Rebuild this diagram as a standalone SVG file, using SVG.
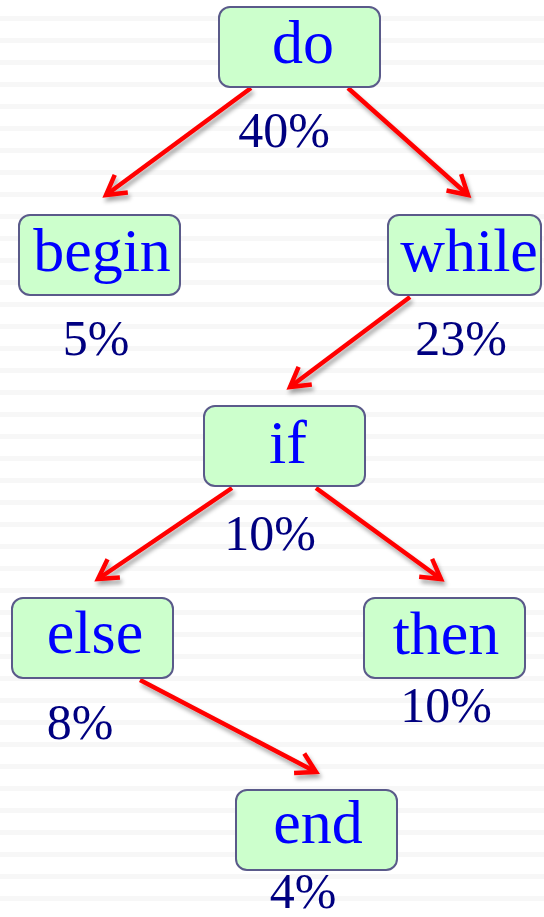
<svg xmlns="http://www.w3.org/2000/svg" width="544" height="917" viewBox="0 0 544 917">
<style>
.box{fill:#ccffcc;stroke:#5a5a8a;stroke-width:2}
.lbl{font-family:"Liberation Serif","Times New Roman",serif;font-size:62px;fill:#0000ff;text-anchor:middle}
.pct{font-family:"Liberation Serif","Times New Roman",serif;font-size:50px;fill:#000080;text-anchor:middle}
.edge{stroke:#ff0000;stroke-width:4.5;fill:none}
</style>
<defs>
<pattern id="stripes" patternUnits="userSpaceOnUse" width="544" height="22">
<rect x="0" y="16" width="544" height="5" fill="#f7f7f7"/>
</pattern>
<marker id="arr" markerUnits="userSpaceOnUse" markerWidth="30" markerHeight="30" refX="0" refY="0" viewBox="-24 -15 30 30" orient="auto" overflow="visible">
<path d="M -19 -11 L 0 0 L -19 11" fill="none" stroke="#ff0000" stroke-width="4.5" stroke-linejoin="miter"/>
</marker>
<filter id="sh" x="-20%" y="-20%" width="140%" height="140%">
<feDropShadow dx="2" dy="4" stdDeviation="2" flood-color="#000" flood-opacity="0.35"/>
</filter>
</defs>
<rect width="544" height="917" fill="#ffffff"/>
<rect width="544" height="917" fill="url(#stripes)"/>
<g id="connectors" filter="url(#sh)">
<line class="edge" x1="251" y1="88" x2="106" y2="195" marker-end="url(#arr)"/>
<line class="edge" x1="348" y1="88" x2="468" y2="195" marker-end="url(#arr)"/>
<line class="edge" x1="410" y1="297" x2="290" y2="387" marker-end="url(#arr)"/>
<line class="edge" x1="232" y1="488" x2="98" y2="579" marker-end="url(#arr)"/>
<line class="edge" x1="316" y1="488" x2="441" y2="579" marker-end="url(#arr)"/>
<line class="edge" x1="140" y1="680" x2="316" y2="772" marker-end="url(#arr)"/>
</g>
<g id="do"><rect class="box" x="219" y="7" width="161" height="80" rx="11"/><text class="lbl" x="303" y="63">do</text><text class="pct" x="284" y="147">40%</text></g>
<g id="begin"><rect class="box" x="19" y="215" width="161" height="80" rx="11"/><text class="lbl" x="102" y="271">begin</text><text class="pct" x="96" y="355">5%</text></g>
<g id="while"><rect class="box" x="388" y="215" width="153" height="80" rx="11"/><text class="lbl" x="469" y="271">while</text><text class="pct" x="461" y="355">23%</text></g>
<g id="if"><rect class="box" x="204" y="406" width="161" height="80" rx="11"/><text class="lbl" x="288" y="463">if</text><text class="pct" x="270" y="550">10%</text></g>
<g id="else"><rect class="box" x="12" y="598" width="161" height="80" rx="11"/><text class="lbl" x="95" y="653">else</text><text class="pct" x="80" y="739">8%</text></g>
<g id="then"><rect class="box" x="364" y="598" width="161" height="80" rx="11"/><text class="lbl" x="446" y="654">then</text><text class="pct" x="446" y="722">10%</text></g>
<g id="end"><rect class="box" x="236" y="790" width="161" height="80" rx="11"/><text class="lbl" x="318" y="843">end</text><text class="pct" x="303" y="908">4%</text></g>
</svg>
